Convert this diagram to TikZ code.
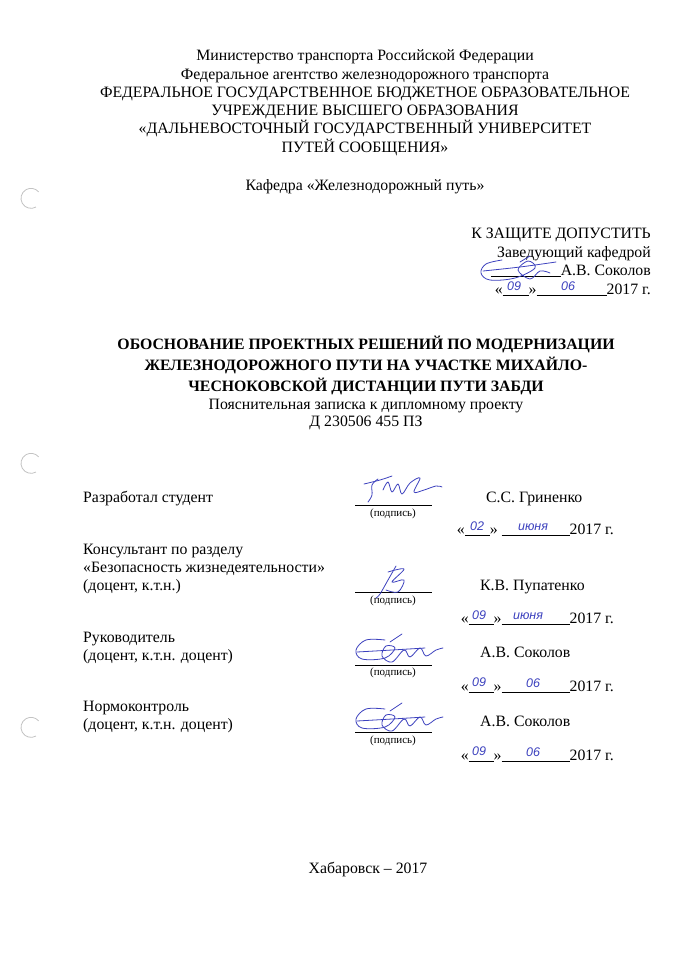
\documentclass[tikz,border=0pt]{standalone}
\usepackage{fontspec}
\setmainfont{Liberation Serif}
\newfontfamily\handfont{Liberation Sans}
\definecolor{ink}{RGB}{60,65,190}
\definecolor{holegray}{RGB}{195,195,195}
\newcommand\dline[3]{«\rule[-1.5pt]{#1}{0.6pt}»#3\rule[-1.5pt]{#2}{0.6pt}2017~г.}
\begin{document}
\begin{tikzpicture}[x=1pt,y=-1pt,
  txt/.style={font=\fontsize{15.8}{18}\selectfont, inner sep=0pt, anchor=base},
  ttl/.style={font=\fontsize{15.8}{18}\selectfont\bfseries, inner sep=0pt, anchor=base},
  small/.style={font=\fontsize{11}{12}\selectfont, inner sep=0pt, anchor=base},
  hand/.style={font=\handfont\itshape\fontsize{12.5}{13}\selectfont, text=ink, inner sep=0pt, anchor=base},
  sig/.style={draw=ink, line width=0.8pt, line cap=round, line join=round},
  sigline/.style={draw=black, line width=0.6pt},
  hole/.style={draw=holegray, line width=0.8pt}]
\useasboundingbox[fill=white] (0,0) rectangle (672,974);

% punch holes
\draw[hole] (36,207) arc (60:320:10);
\draw[hole] (36,472) arc (60:320:10);
\draw[hole] (36,736) arc (60:320:10);

% header
\node[txt] (h1) at (365,61) {Министерство транспорта Российской Федерации};
\node[txt] (h2) at (365,79) {Федеральное агентство железнодорожного транспорта};
\node[txt] (h3) at (365,97) {ФЕДЕРАЛЬНОЕ ГОСУДАРСТВЕННОЕ БЮДЖЕТНОЕ ОБРАЗОВАТЕЛЬНОЕ};
\node[txt] (h4) at (365,115) {УЧРЕЖДЕНИЕ ВЫСШЕГО ОБРАЗОВАНИЯ};
\node[txt] (h5) at (365,133) {«ДАЛЬНЕВОСТОЧНЫЙ ГОСУДАРСТВЕННЫЙ УНИВЕРСИТЕТ};
\node[txt] (h6) at (365,152) {ПУТЕЙ СООБЩЕНИЯ»};
\node[txt] (kaf) at (365,190) {Кафедра «Железнодорожный путь»};

% approval block
\node[txt, anchor=base east] (a1) at (651,238) {К ЗАЩИТЕ ДОПУСТИТЬ};
\node[txt, anchor=base east] (a2) at (651,257) {Заведующий кафедрой};
\node[txt, anchor=base east] (a3) at (651,275) {\rule[-1.5pt]{70pt}{0.6pt}А.В. Соколов};
\node[txt, anchor=base east] (a4) at (651,294) {\dline{26pt}{70pt}{}};
\node[hand] (a4d) at (514,290) {09};
\node[hand] (a4m) at (568,290) {06};
\draw[sig] plot[smooth, tension=0.6] coordinates {(502,260) (486,264) (481,273) (490,280) (515,278) (535,268) (528,261) (518,270) (530,279) (540,271) (550,273)};
\draw[sig] plot[smooth, tension=0.6] coordinates {(483,271) (520,267) (556,262)};
\draw[sig] plot[smooth, tension=0.6] coordinates {(520,262) (530,256)};

% title
\node[ttl] (t1) at (366,349) {ОБОСНОВАНИЕ ПРОЕКТНЫХ РЕШЕНИЙ ПО МОДЕРНИЗАЦИИ};
\node[ttl] (t2) at (366,370) {ЖЕЛЕЗНОДОРОЖНОГО ПУТИ НА УЧАСТКЕ МИХАЙЛО-};
\node[ttl] (t3) at (366,391) {ЧЕСНОКОВСКОЙ ДИСТАНЦИИ ПУТИ ЗАБДИ};
\node[txt] (t4) at (366,409) {Пояснительная записка к дипломному проекту};
\node[txt] (t5) at (366,426) {Д 230506 455 ПЗ};

% student
\node[txt, anchor=base west] (s1) at (83,502) {Разработал студент};
\draw[sigline] (355,505) coordinate (s1a) -- (432,505) coordinate (s1b);
\node[small] (s1p) at (393,516) {(подпись)};
\node[txt, anchor=base west] (s1n) at (486,502) {С.С. Гриненко};
\node[txt, anchor=base east] (s1d) at (614,534) {\dline{25pt}{68pt}{\ }};
\node[hand] (s1dd) at (477,530) {02};
\node[hand] (s1dm) at (533,530) {июня};
\draw[sig] plot[smooth, tension=0.6] coordinates {(378,479) (372,485) (372,495) (368,502)};
\draw[sig] plot[smooth, tension=0.6] coordinates {(364,484) (380,480) (392,476)};
\draw[sig] plot[smooth, tension=0.6] coordinates {(383,490) (388,482) (392,492) (398,484) (402,494) (410,483) (420,478) (414,492) (424,490) (436,486) (442,487)};

% consultant
\node[txt, anchor=base west] (c1) at (83,554) {Консультант по разделу};
\node[txt, anchor=base west] (c2) at (83,572) {«Безопасность жизнедеятельности»};
\node[txt, anchor=base west] (c3) at (83,590) {(доцент, к.т.н.)};
\draw[sigline] (355,592) coordinate (c1a) -- (432,592) coordinate (c1b);
\node[small] (c1p) at (393,603) {(подпись)};
\node[txt, anchor=base west] (c1n) at (480,590) {К.В. Пупатенко};
\node[txt, anchor=base east] (c1d) at (614,623) {\dline{25pt}{68pt}{}};
\node[hand] (c1dd) at (479,619) {09};
\node[hand] (c1dm) at (528,619) {июня};
\draw[sig] plot[smooth, tension=0.6] coordinates {(396,566) (388,580) (380,594) (376,598)};
\draw[sig] plot[smooth, tension=0.6] coordinates {(388,572) (404,569) (392,582) (404,580) (398,592) (386,590)};

% supervisor
\node[txt, anchor=base west] (r1) at (83,642) {Руководитель};
\node[txt, anchor=base west] (r2) at (83,660) {(доцент, к.т.н. доцент)};
\draw[sigline] (355,665) coordinate (r1a) -- (432,665) coordinate (r1b);
\node[small] (r1p) at (393,675) {(подпись)};
\node[txt, anchor=base west] (r1n) at (480,657) {А.В. Соколов};
\node[txt, anchor=base east] (r1d) at (614,691) {\dline{25pt}{68pt}{}};
\node[hand] (r1dd) at (479,686) {09};
\node[hand] (r1dm) at (533,687) {06};
\draw[sig] plot[smooth, tension=0.6] coordinates {(385,640) (366,640) (356,650) (362,659) (385,658) (395,648) (386,646) (382,656) (392,662) (404,650) (410,657) (420,648) (426,656) (436,650) (443,648)};
\draw[sig] plot[smooth, tension=0.6] coordinates {(357,652) (392,650) (425,648)};
\draw[sig] plot[smooth, tension=0.6] coordinates {(390,642) (402,634)};

% normcontrol
\node[txt, anchor=base west] (n1) at (83,711) {Нормоконтроль};
\node[txt, anchor=base west] (n2) at (83,729) {(доцент, к.т.н. доцент)};
\draw[sigline] (355,732) coordinate (n1a) -- (432,732) coordinate (n1b);
\node[small] (n1p) at (393,743) {(подпись)};
\node[txt, anchor=base west] (n1n) at (480,726) {А.В. Соколов};
\node[txt, anchor=base east] (n1d) at (614,760) {\dline{25pt}{68pt}{}};
\node[hand] (n1dd) at (479,755) {09};
\node[hand] (n1dm) at (533,756) {06};
\draw[sig] plot[smooth, tension=0.6] coordinates {(385,709) (366,709) (356,719) (362,728) (385,727) (395,717) (386,715) (382,725) (392,731) (404,719) (410,726) (420,717) (426,725) (436,719) (443,717)};
\draw[sig] plot[smooth, tension=0.6] coordinates {(357,721) (392,719) (425,717)};
\draw[sig] plot[smooth, tension=0.6] coordinates {(390,711) (402,703)};

% city
\node[txt] (city) at (368,873) {Хабаровск – 2017};
\end{tikzpicture}
\end{document}
